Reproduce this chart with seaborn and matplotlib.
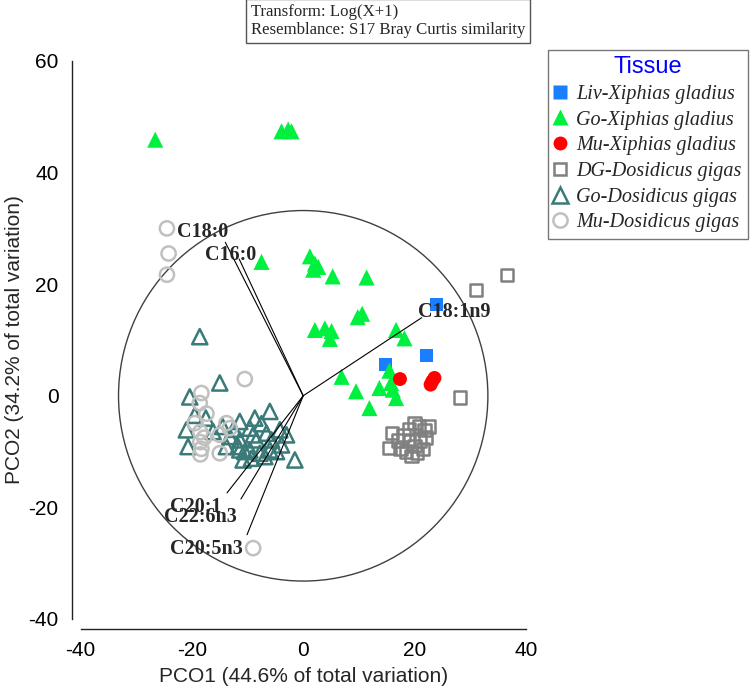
import matplotlib
matplotlib.use("Agg")
import matplotlib.pyplot as plt
from matplotlib.lines import Line2D
from matplotlib.patches import Circle
import pandas as pd
import seaborn as sns

# PCO scores, one pair of arrays per tissue group
liv_xg_x = [14.8, 22.1, 24.0]
liv_xg_y = [5.6, 7.2, 16.3]

go_xg_x = [-26.6, -3.9, -2.7, -2.1, -7.5, 1.2, 2.1, 2.7, 1.8, 5.3, 11.4,
           2.1, 3.9, 5.1, 4.8, 9.8, 10.6, 6.9, 9.5, 11.9,
           16.7, 18.2, 13.7, 15.8, 16.1, 16.7, 15.5]
go_xg_y = [45.9, 47.4, 47.7, 47.4, 24.0, 25.0, 23.7, 23.1, 22.6, 21.4, 21.2,
           11.8, 12.1, 11.6, 10.2, 14.1, 14.7, 3.4, 0.8, -2.2,
           11.8, 10.3, 1.4, 2.3, 1.1, -0.4, 4.5]

mu_xg_x = [17.4, 22.9, 23.6, 23.2]
mu_xg_y = [3.0, 2.0, 3.2, 2.6]

dg_dg_x = [28.2, 31.1, 36.6, 20.0, 20.8, 21.8, 16.0, 15.5, 17.0, 18.0, 19.0,
           20.0, 21.0, 22.0, 18.5, 19.5, 20.5, 17.5, 21.5, 19.0, 22.5]
dg_dg_y = [-0.3, 19.0, 21.7, -4.9, -5.5, -6.1, -6.7, -9.4, -8.0, -7.0, -8.0,
           -9.0, -8.0, -7.5, -10.0, -10.8, -10.2, -9.5, -9.5, -6.0, -5.5]

go_dg_x = [-18.6, -15.0, -20.4, -6.0, -8.7, -11.4, -21.0, -16.2, -9.6, -6.6,
           -4.2, -11.4, -8.4, -5.7, -20.7, -11.4, -9.6, -7.8, -4.8, -1.5,
           -10.8, -13.2, -9.0, -11.7, -10.5, -6.0, -3.9, -9.3, -6.9, -13.8,
           -14.5, -12.5, -7.5, -3.0, -17.5, -19.5]
go_dg_y = [10.6, 2.3, -0.2, -2.8, -4.0, -4.6, -6.1, -6.4, -5.8, -6.7,
           -6.1, -7.9, -7.9, -7.9, -9.1, -9.7, -9.7, -10.3, -10.0, -11.5,
           -11.5, -7.3, -7.0, -9.1, -10.0, -9.7, -8.8, -11.2, -10.9, -9.1,
           -5.5, -6.0, -5.0, -7.0, -4.0, -3.5]

mu_dg_x = [-24.5, -24.2, -24.5, -10.5, -18.3, -18.6, -17.4, -19.5, -13.8,
           -13.2, -15.0, -18.5, -17.8, -18.5, -18.3, -18.5, -15.0, -9.0]
mu_dg_y = [30.0, 25.5, 21.7, 3.0, 0.5, -1.3, -3.2, -4.9, -4.9,
           -5.8, -7.0, -6.5, -7.5, -8.3, -9.5, -10.5, -10.3, -27.3]

tissue_labels = ["Liv-Xiphias gladius", "Go-Xiphias gladius", "Mu-Xiphias gladius",
                 "DG-Dosidicus gigas", "Go-Dosidicus gigas", "Mu-Dosidicus gigas"]

# fatty acid vectors (end points of the overlay lines)
vec_names = ["C18:0", "C16:0", "C18:1n9", "C20:1", "C22:6n3", "C20:5n3"]
vec_x = [-14.0, -11.5, 21.3, -13.7, -11.2, -10.1]
vec_y = [27.5, 24.5, 14.0, -17.4, -18.5, -24.9]

# marker, colour, filled, size for each tissue
styles = {
    "Liv-Xiphias gladius": ("s", "#1a7fff", True, 90),
    "Go-Xiphias gladius": ("^", "#00f040", True, 135),
    "Mu-Xiphias gladius": ("o", "#ff0000", True, 100),
    "DG-Dosidicus gigas": ("s", "#808080", False, 80),
    "Go-Dosidicus gigas": ("^", "#3a7a78", False, 120),
    "Mu-Dosidicus gigas": ("o", "#c0c0c0", False, 105),
}

frames = []
for lab, xs, ys in zip(tissue_labels,
                       [liv_xg_x, go_xg_x, mu_xg_x, dg_dg_x, go_dg_x, mu_dg_x],
                       [liv_xg_y, go_xg_y, mu_xg_y, dg_dg_y, go_dg_y, mu_dg_y]):
    frames.append(pd.DataFrame({"PCO1": xs, "PCO2": ys, "Tissue": lab}))
df = pd.concat(frames, ignore_index=True)

sns.set_style("white")
plt.rcParams["font.family"] = ["Liberation Sans", "DejaVu Sans"]
plt.rcParams["axes.unicode_minus"] = False

fig = plt.figure(figsize=(7.53, 6.90), dpi=100)
ax = fig.add_axes([80.7 / 753, 71 / 690, 445 / 753, 558 / 690])

# correlation circle
ax.add_patch(Circle((0, 0), 33.2, fill=False, ec="#404040", lw=1.0, zorder=1))

for lab in tissue_labels:
    mk, col, filled, size = styles[lab]
    sub = df[df["Tissue"] == lab]
    if filled:
        sns.scatterplot(data=sub, x="PCO1", y="PCO2", marker=mk, s=size,
                        color=col, edgecolor="none", ax=ax, zorder=2)
    else:
        sns.scatterplot(data=sub, x="PCO1", y="PCO2", marker=mk, s=size,
                        color=col, facecolor="none", edgecolor=col,
                        linewidth=1.8, ax=ax, zorder=2)

# vector overlay
label_pos = {
    "C18:0": ("right", "bottom", (2, 0)),
    "C16:0": ("right", "center", (12, 3)),
    "C18:1n9": ("left", "center", (-3, 4)),
    "C20:1": ("right", "top", (-4, -3)),
    "C22:6n3": ("right", "top", (-3, -6)),
    "C20:5n3": ("right", "top", (-3, -3)),
}
for name, vx, vy in zip(vec_names, vec_x, vec_y):
    ax.plot([0, vx], [0, vy], color="black", lw=0.8, zorder=3)
    ha, va, off = label_pos[name]
    ax.annotate(name, xy=(vx, vy), xytext=off, textcoords="offset points",
                ha=ha, va=va, fontsize=14.5, fontweight="bold",
                family=["Liberation Serif", "DejaVu Serif"], zorder=4)

ax.set_xlim(-40, 40)
ax.set_ylim(-40, 60)
ax.set_xticks([-40, -20, 0, 20, 40])
ax.set_yticks([-40, -20, 0, 20, 40, 60])
ax.set_xlabel("PCO1 (44.6% of total variation)", fontsize=15)
ax.set_ylabel("PCO2 (34.2% of total variation)", fontsize=15)
ax.xaxis.set_label_coords(0.5, -0.086)
ax.yaxis.set_label_coords(-0.128, 0.5)
ax.tick_params(axis="x", direction="in", length=7, width=1, labelsize=15, pad=9, colors="#222222")
ax.tick_params(axis="y", direction="out", length=7, width=1, labelsize=15, pad=3, colors="#222222")
ax.tick_params(labelcolor="black")

sns.despine(ax=ax, offset={"left": 6, "bottom": 7})
for sp in ["left", "bottom"]:
    ax.spines[sp].set_color("#222222")
    ax.spines[sp].set_linewidth(1.0)

# legend
handles = []
for lab in tissue_labels:
    mk, col, filled, size = styles[lab]
    handles.append(Line2D([], [], ls="none", marker=mk, markersize=size ** 0.5,
                          markerfacecolor=col if filled else "none",
                          markeredgecolor=col if not filled else "none",
                          markeredgewidth=1.8))
leg = fig.legend(handles, tissue_labels, loc="upper left",
                 bbox_to_anchor=(548 / 753, 1 - 50 / 690),
                 title="Tissue", frameon=True, fancybox=False,
                 prop={"family": "Liberation Serif", "style": "italic", "size": 14.5},
                 handlelength=0.6, handletextpad=0.5, labelspacing=0.33,
                 borderpad=0.3, borderaxespad=0)
leg.get_title().set_color("#0000ff")
leg.get_title().set_fontsize(17)
leg.get_title().set_family("Liberation Sans")
leg.get_frame().set_edgecolor("#555555")
leg.get_frame().set_linewidth(1.0)

# PRIMER header box
fig.text(251 / 753, 1 - 4 / 690,
         "Transform: Log(X+1)\nResemblance: S17 Bray Curtis similarity",
         ha="left", va="top", fontsize=12.1, linespacing=1.2,
         family=["Liberation Serif", "DejaVu Serif"],
         bbox=dict(boxstyle="square,pad=0.3", fc="white", ec="#555555", lw=1.0))

fig.savefig("out.png", dpi=100)
